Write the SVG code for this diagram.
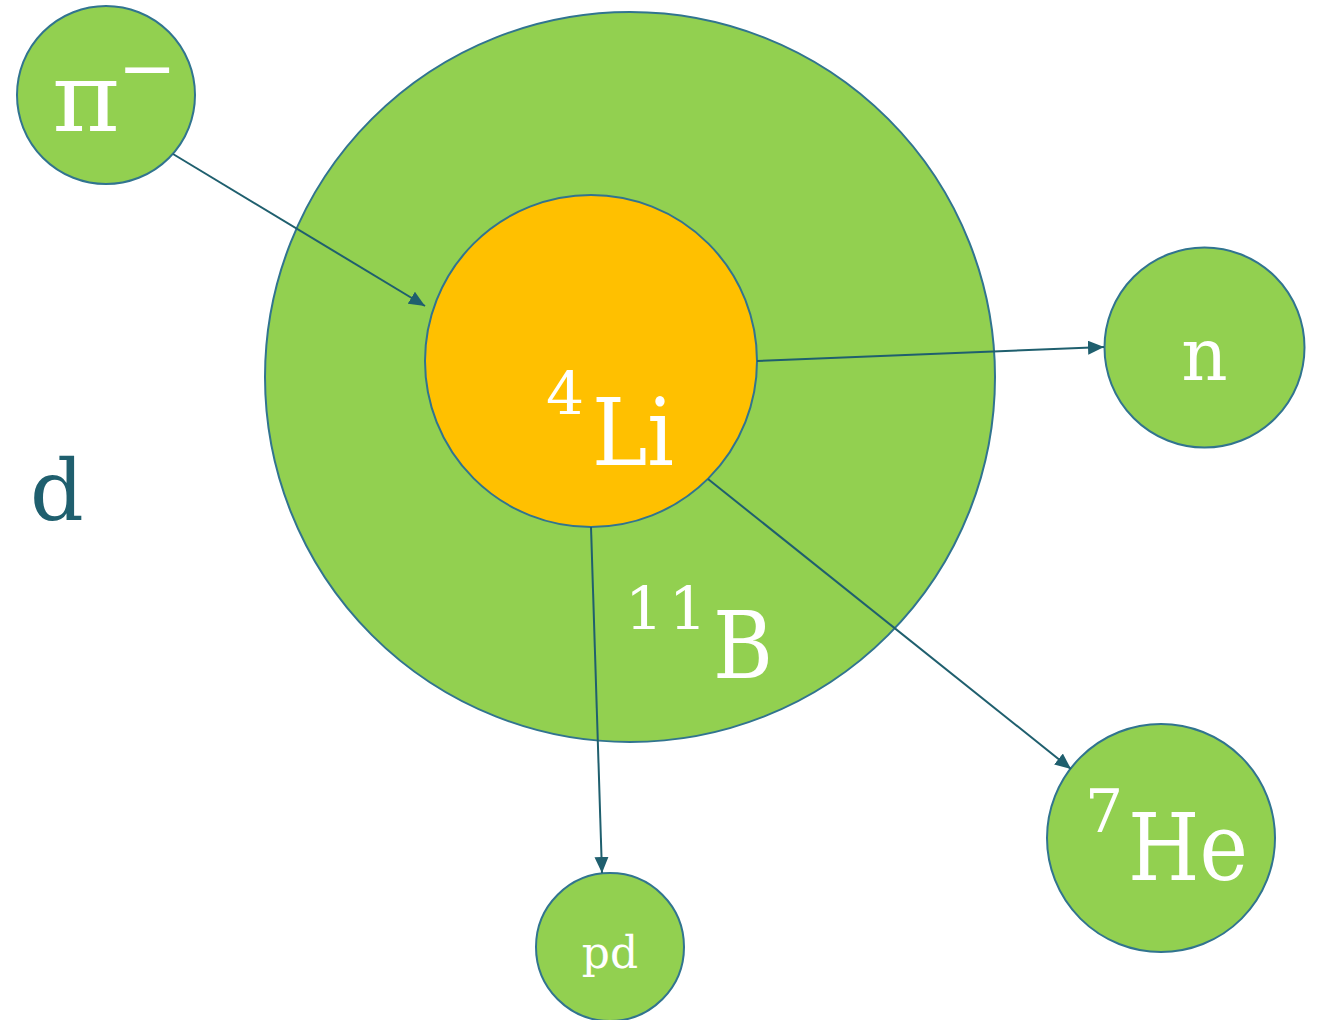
<svg xmlns="http://www.w3.org/2000/svg" width="1319" height="1020" viewBox="0 0 1319 1020">
<style>
.g{fill:#92D050;stroke:#31748F;stroke-width:2}
.o{fill:#FFC000;stroke:#31748F;stroke-width:2}
.t{fill:#fff;font-family:"DejaVu Serif","Liberation Serif",serif}
.c{stroke:#1F5F6E;stroke-width:2;fill:none;marker-end:url(#a)}
</style>
<defs>
<marker id="a" viewBox="0 0 16 14" refX="16" refY="7" markerWidth="16" markerHeight="14" markerUnits="userSpaceOnUse" orient="auto"><path d="M0,0L16,7L0,14z" fill="#1F5F6E"/></marker>
</defs>
<rect width="1319" height="1020" fill="#fff"/>
<g id="B11"><circle class="g" cx="630" cy="377" r="365"/><text class="t" x="625" y="630" font-size="60" textLength="82" lengthAdjust="spacing">11</text><text class="t" x="713" y="678" font-size="94" textLength="60" lengthAdjust="spacingAndGlyphs">B</text></g>
<g id="Li4"><circle class="o" cx="591" cy="361" r="166"/><text class="t" x="546" y="415" font-size="60">4</text><text class="t" x="592" y="465" font-size="94" textLength="82" lengthAdjust="spacingAndGlyphs">Li</text></g>
<g id="pi"><circle class="g" cx="106" cy="95" r="89"/><text class="t" x="52" y="131" font-size="96" textLength="68" lengthAdjust="spacingAndGlyphs">π</text><text class="t" x="118" y="92" font-size="70">−</text></g>
<g id="n"><circle class="g" cx="1204.5" cy="347.5" r="100"/><text class="t" x="1204.5" y="380" font-size="72" text-anchor="middle">n</text></g>
<g id="He7"><circle class="g" cx="1161" cy="838" r="114"/><text class="t" x="1085" y="832" font-size="60">7</text><text class="t" x="1128" y="880" font-size="94" textLength="120" lengthAdjust="spacingAndGlyphs">He</text></g>
<g id="pd"><circle class="g" cx="610" cy="947" r="74"/><text class="t" x="610" y="968" font-size="44" text-anchor="middle">pd</text></g>
<g id="d"><text x="30" y="520" font-size="84" fill="#1F5F6E" font-family="DejaVu Serif,Liberation Serif,serif">d</text></g>
<g id="connectors">
<path class="c" d="M173,154L425,306"/>
<path class="c" d="M757,361L1104,347"/>
<path class="c" d="M591,527L602,873"/>
<path class="c" d="M708,479L1071,769"/>
</g>
</svg>
